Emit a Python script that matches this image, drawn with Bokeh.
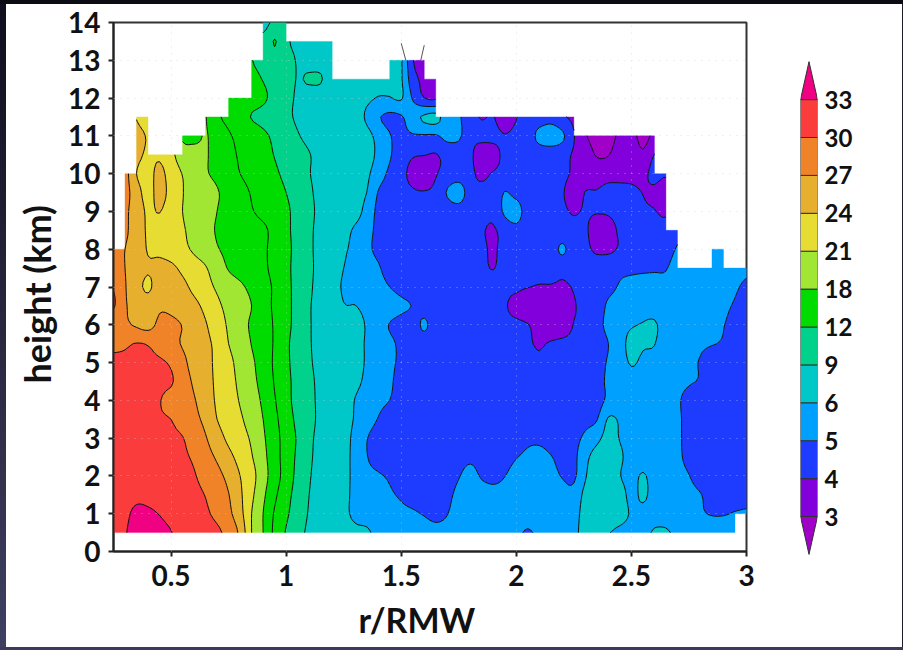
import numpy as np
from contourpy import contour_generator
from bokeh.embed import file_html
from bokeh.resources import INLINE
from bokeh.plotting import figure
from bokeh.layouts import row, column
from bokeh.models import Range1d, FixedTicker, Title, Div

X = float("nan")

r_nodes = [round(0.25 + 0.05 * i, 2) for i in range(56)]
z_nodes = [0.5 * j for j in range(1, 29)]

levels = [0, 3, 4, 5, 6, 9, 12, 15, 18, 21, 24, 27, 30, 33, 100]
fills = ["#A000C8", "#8200DC", "#1E3CFF", "#00A0FF", "#00C8C8", "#00D28C", "#00DC00", "#00DC00",
         "#A0E632", "#E6DC32", "#E6AF2D", "#F08228", "#FA3C3C", "#F00082"]

bar_levels = [3, 4, 5, 6, 9, 12, 18, 21, 24, 27, 30, 33]
bar_colors = ["#8200DC", "#1E3CFF", "#00A0FF", "#00C8C8", "#00D28C", "#00DC00",
              "#A0E632", "#E6DC32", "#E6AF2D", "#F08228", "#FA3C3C"]
bar_low = "#A000C8"
bar_high = "#F00082"

x_ticks = [0.5, 1, 1.5, 2, 2.5, 3]
x_tick_text = ["0.5", "1", "1.5", "2", "2.5", "3"]
y_ticks = list(range(0, 15))

stray_r_a = [1.50, 1.52]
stray_z_a = [13.45, 13.0]
stray_r_b = [1.60, 1.585]
stray_z_b = [13.4, 13.0]

z05 = [31,32.8,33.8,34.2,34,33.1,32,31.5,31,30.5, 29,26.3,21,18,14.3,11.8,9.8,8.6,7.9,7.2,
       6.5,6.2,6.1,5.8,5.6,5.5,5.4,5.3,5.2,5.2, 5.3,5.4,5.4,5.4,5.3,5.2,4.9,5.2,5.3,5.5,
       5.8,6.3,6.4,6.05,5.8,5.7,5.7,6.1,6.1,5.8, 5.6,5.5,5.4,5.4,5.3,X]
z10 = [31.5,32.4,33.6,33.4,32.9,32,31.5,31,30.4,29.3, 27.7,25,21,18,14.7,12.5,10.5,8.8,8,7.1,
       6.3,5.8,5.7,5.6,5.4,5.2,5.1,4.95,4.8,4.98, 5.3,5.4,5.35,5.3,5.3,5.4,5.5,5.5,5.5,5.4,
       5.6,6.4,6.6,6.7,6.4,5.9,5.7,5.6,5.6,5.5, 5.4,5.1,4.95,4.95,5.05,5.1]
z15 = [31.3,31.8,32.3,32.3,32,31.5,31,30.6,29.9,28.5, 27.1,24.5,21.6,18.6,15.6,13,10.9,9,8.1,7.2,
       6.3,5.8,5.5,5.3,5.1,4.9,4.7,4.6,4.5,4.8, 5.2,5.4,5.4,5.35,5.35,5.5,5.6,5.6,5.5,5.3,
       5.3,6.3,6.8,7,6.5,5.7,6.2,5.6,5.6,5.5, 5.3,5.05,4.6,4.6,4.6,4.6]
z20 = [31,31.3,31.6,31.6,31.4,31.2,30.8,30.2,29,27.8, 26.2,24,22,19.2,16.4,13.7,11.2,9.2,8.2,7.2,
       6.3,5.8,5.3,5.1,4.9,4.7,4.5,4.4,4.4,4.6, 4.95,5.3,4.9,4.7,4.98,5.4,5.6,5.6,5.3,4.95,
       4.85,5.9,6.9,7.2,6.05,5.7,6.1,5.6,5.5,5.3, 5.03,4.5,4.3,4.2,4.2,4.3]
z25 = [30.8,31,31.2,31,30.8,30.6,30.4,29.6,28.1,26.6, 24.8,23,21.2,18.8,16.3,13.6,11.5,9.4,8.3,7.3,
       6.4,5.7,5.05,4.6,4.5,4.4,4.3,4.2,4.2,4.4, 4.6,4.8,4.6,4.5,4.6,4.95,5.2,5.3,5.05,4.7,
       4.8,5.7,6.5,7,6.2,5.6,5.5,5.5,5.4,5.2, 4.7,4.3,4.15,4.1,4.1,4.15]
z30 = [30.6,30.7,30.8,30.7,30.6,30.4,30.1,28.6,27.2,25.2, 23.4,22.1,20.6,18.4,16.2,13.6,11.7,9.5,8.4,7.4,
       6.5,5.7,5.05,4.5,4.3,4.2,4.1,4.1,4.1,4.2, 4.3,4.3,4.3,4.2,4.3,4.5,4.8,4.8,4.6,4.4,
       4.7,5.2,5.7,6.4,5.95,5.6,5.5,5.4,5.4,5.2, 4.6,4.3,4.2,4.1,4.1,4.2]
z35 = [30.4,30.5,30.5,30.4,30.2,30,28.9,27.7,26.3,24, 22.7,21.4,19.8,18,15.7,13.4,11.3,9.7,8.5,7.5,
       6.6,5.9,5.5,4.95,4.4,4.2,4.1,4.1,4.1,4.1, 4.2,4.2,4.2,4.2,4.2,4.3,4.4,4.4,4.4,4.3,
       4.4,4.7,4.95,6.1,5.9,5.6,5.5,5.4,5.4,5.2, 4.6,4.3,4.2,4.1,4.1,4.2]
z40 = [30.3,30.3,30.3,30.2,30.1,29,28.2,27.2,25.5,23.6, 22.3,20.8,19.3,17.5,15.2,13,10.9,9.6,8.5,7.6,
       6.8,5.95,5.6,5.3,5,4.4,4.2,4.1,4.1,4.1, 4.1,4.1,4.1,4.1,4.1,4.2,4.2,4.2,4.2,4.2,
       4.2,4.3,4.6,5.2,5.5,5.5,5.5,5.5,5.4,5.15, 4.6,4.3,4.2,4.1,4.1,4.2]
z45 = [30.6,30.7,30.7,30.6,30.5,30.3,28.3,26.6,25,23.5, 22,20.4,18.8,17,14.8,12.8,11,9.5,8.5,7.7,
       7,6.3,5.8,5.5,5.2,4.5,4.3,4.2,4.1,4.1, 4.1,4.1,4.1,4.1,4.1,4.1,4.1,4.1,4.1,4.2,
       4.2,4.3,4.6,5.2,5.5,5.6,5.7,5.7,5.5,5.3, 5.1,4.9,4.4,4.2,4.1,4.2]
z50 = [30.6,30.5,30.6,30.6,30.4,29.6,27.7,26,24.8,23.4, 21.7,20.1,18.5,16.6,14.6,12.6,10.8,9.3,8.4,7.7,
       7.1,6.4,5.9,5.5,5.2,4.8,4.4,4.3,4.2,4.1, 4.1,4.1,4.1,4.1,4.1,4.1,4.1,4.05,4.1,4.2,
       4.2,4.3,4.6,5.1,5.5,6.1,5.8,5.7,5.5,5.3, 5.1,4.95,4.5,4.3,4.2,4.2]
z55 = [29.3,29.6,30.1,29.8,28.7,27.8,26.8,25.9,24.6,23.3, 21,19.8,17.9,16.5,14.7,12.5,10.9,9.2,8.4,7.8,
       7.2,6.4,5.9,5.5,5.2,4.8,4.5,4.4,4.3,4.2, 4.2,4.2,4.2,4.1,4.1,4.05,4.05,3.95,4.05,4.1,
       4.1,4.2,4.4,5,5.5,6.4,6.1,6.03,5.5,5.3, 5.2,5.1,5.05,4.9,4.6,4.3]
z60 = [28,27.5,26.6,26,27.6,27.5,26.9,25.5,24.2,22.5, 20.6,19.1,17.6,16.4,14.7,12.8,11,9.2,8.3,7.6,
       7,6.5,5.9,5.4,4.95,4.6,4.4,5.2,4.3,4.3, 4.3,4.3,4.2,4.2,4.1,4.1,4.03,3.7,3.6,3.7,
       4.02,4.1,4.6,5.3,5.6,5.9,6.05,6.1,5.6,5.4, 5.3,5.2,5.2,5.03,4.7,4.4]
z65 = [30.3,27.3,26.2,25.5,26.6,26.4,25.6,24.7,23.3,21.6, 20.2,19.2,18,16.3,14.5,12.9,10.9,9.2,8.2,7.2,
       6.1,6.02,5.7,5.3,5.5,5.25,4.95,4.4,4.3,4.3, 4.3,4.3,4.3,4.2,4.05,3.8,3.5,3.4,3.4,3.4,
       3.95,4.1,4.4,5.2,5.6,5.6,5.6,5.6,5.5,5.4, 5.4,5.4,5.4,5.2,4.9,4.6]
z70 = [29.8,27.2,25.1,23.5,25.6,25.4,24.7,23.3,22,20.6, 19.5,18.5,17.3,16,14.6,12.9,10.9,9.4,8.1,6.9,
       5.8,5.7,5.6,5.3,5,4.6,4.3,4.2,4.2,4.2, 4.2,4.2,4.2,4.2,4.1,4.1,4.02,3.95,3.95,3.9,
       4.05,4.3,4.6,4.7,5.1,5.3,5.35,5.3,5.25,5.4, 5.5,5.5,5.5,5.5,5.15,4.8]
z75 = [28.5,27,25.8,24.3,25,24.6,23.4,22.2,21.2,19.5, 17.8,16.9,16.2,15.5,14.2,12.8,10.8,9.5,8.2,7,
       6,5.7,5.4,5.1,4.6,4.3,4.2,4.1,4.1,4.1, 4.1,4.1,4.1,3.98,4.2,4.2,4.2,4.2,4.2,4.2,
       4.2,4.3,4.6,4.8,4.8,4.8,4.85,4.9,4.95,5.4, 5.5,5.5,5.5,5.5,5.5,5.2]
z80 = [27.6,27,25.5,23.8,23.3,22.6,21.7,20.6,19.6,18.2, 17.4,16.8,16.1,15.5,14,12.8,11,9.5,8.1,7,
       6.2,5.7,5.2,4.8,4.5,4.3,4.2,4.1,4.1,4.1, 4.1,4.1,4.1,3.93,4.2,4.3,4.3,4.3,4.4,5.2,
       4.3,4.2,3.8,3.75,4.1,4.2,4.3,4.4,4.6,5.1, X,X,5.5,5.5,X,X]
z85 = [X,27.5,25.3,23.7,23.1,22.3,21.3,20.1,18.9,17.8, 17.3,16.8,16.2,15.6,14,12.6,11,9.5,8.2,7.3,
       6.5,5.8,5.3,4.8,4.5,4.3,4.2,4.1,4.1,4.1, 4.1,4.1,4.05,3.92,4.3,4.6,4.3,4.3,4.3,4.2,
       4.15,4.1,3.6,3.6,4.15,4.3,4.3,4.4,4.5,4.7, X,X,X,X,X,X]
z90 = [X,27.5,25.5,23.6,24.1,22.5,21,20,19,18, 17,16.1,15.2,14.2,13.4,12.5,11,9.6,8.4,7.5,
       6.8,6.5,5.6,4.8,4.5,4.3,4.2,4.2,4.2,4.3, 4.3,4.2,4.2,4.2,5.2,5.6,4.3,4.3,4.2,4.1,
       3.95,4.05,4.05,4.1,4.3,4.2,4.1,4.05,3.8,X, X,X,X,X,X,X]
z95 = [X,28,25.2,23,25,23,21.1,20,19.2,18.2, 17.1,16,14.8,14,13,12,10.7,9.4,8.3,7.6,
       7,6.5,6,4.95,4.5,4.3,4.1,4.05,4.2,5.1, 5.8,4.2,4.1,4.2,5.05,4.6,4.2,4.2,4.1,4.05,
       3.7,4.02,4.03,4.15,4.2,4.15,3.98,3.8,3.5,X, X,X,X,X,X,X]
z100 = [X,28,24,23,24.8,22.6,20.9,19.8,18.3,17.4, 16.2,15,14.1,13.3,12.4,11.4,10.2,9.1,8.3,7.7,
        7.2,6.8,6.2,5.5,4.8,4.3,3.7,3.5,3.95,4.2, 4.2,4.1,3.9,4.05,4.2,4.3,4.3,4.2,4.2,4.15,
        3.9,3.7,3.7,3.75,3.8,3.8,3.75,4.3,4.1,X, X,X,X,X,X,X]
z105 = [X,X,25,23.5,23.6,21.8,19.5,19.4,18.3,17, 15.7,14.7,13.8,12.9,11.9,11,10,9.1,8.4,7.8,
        7.3,6.9,6.4,5.8,5.1,4.5,4.1,4.03,3.95,4.3, 4.3,4.15,3.5,3.7,4.2,4.3,4.3,4.3,4.4,4.3,
        3.9,3.6,2.9,2.95,3.6,3.7,3.15,4.03,X,X, X,X,X,X,X,X]
z110 = [X,X,25.5,23.7,X,X,17.5,17,18.2,16.5, 15.3,14.3,13.4,12.5,11.5,10.5,9.2,8.4,7.9,7.5,
        7,6.6,6.3,5.7,5.05,4.8,4.9,4.9,4.9,5.3, 5.2,4.2,4.25,4.2,4.05,4.2,4.3,5.4,5.6,5.2,
        4.05,3.1,2.6,2.6,3.2,3.3,2.7,3.3,X,X, X,X,X,X,X,X]
z115 = [X,X,23.8,22.5,X,X,X,X,18.1,15.5, 14.3,13,11.9,11.3,10.5,9.6,8.6,8,7.6,7.2,
        6.9,6.5,5.85,5.1,4.8,4.9,5.6,6.15,6.3,5.5, 5.15,4.3,3.95,4.05,3.5,3.98,4.2,4.3,4.6,4.1,
        3.8,X,X,X,X,X,X,X,X,X, X,X,X,X,X,X]
z120 = [X,X,X,X,X,X,X,X,X,X, 14,13.5,13,12.4,11.2,9.7,8.7,8,7.5,7.1,
        6.7,6.4,6.2,5.95,5.95,6.1,4.9,4.02,3.9,X, X,X,X,X,X,X,X,X,X,X,
        X,X,X,X,X,X,X,X,X,X, X,X,X,X,X,X]
z125 = [X,X,X,X,X,X,X,X,X,X, X,X,12.6,11.9,10.9,9.9,8.9,9.25,9.25,7.2,
        6.9,6.7,6.5,6.3,6.3,6.1,4.4,3.8,3.7,X, X,X,X,X,X,X,X,X,X,X,
        X,X,X,X,X,X,X,X,X,X, X,X,X,X,X,X]
z130 = [X,X,X,X,X,X,X,X,X,X, X,X,12.1,11.2,10.6,9.9,8.8,8.2,7.8,7.6,
        X,X,X,X,6.3,6.1,4.05,3.7,X,X, X,X,X,X,X,X,X,X,X,X,
        X,X,X,X,X,X,X,X,X,X, X,X,X,X,X,X]
z135 = [X,X,X,X,X,X,X,X,X,X, X,X,X,9.6,12.2,9.5,8.4,8,7.7,7.5,
        X,X,X,X,X,X,X,X,X,X, X,X,X,X,X,X,X,X,X,X,
        X,X,X,X,X,X,X,X,X,X, X,X,X,X,X,X]
z140 = [X,X,X,X,X,X,X,X,X,X, X,X,X,8.5,9.6,9.8,X,X,X,X,
        X,X,X,X,X,X,X,X,X,X, X,X,X,X,X,X,X,X,X,X,
        X,X,X,X,X,X,X,X,X,X, X,X,X,X,X,X]

rows = [z05, z10, z15, z20, z25, z30, z35, z40, z45, z50, z55, z60, z65, z70,
        z75, z80, z85, z90, z95, z100, z105, z110, z115, z120, z125, z130, z135, z140]
for rw in rows:
    assert len(rw) == 56, len(rw)

field = np.array(rows, dtype=float)


def smooth_axis(a, k, axis):
    # Catmull-Rom display smoothing between the read nodes, as the original plot was drawn smoothly
    a = np.moveaxis(a, axis, 0)
    n = a.shape[0]
    t = np.arange((n - 1) * k + 1) / k
    i = np.minimum(t.astype(int), n - 2)
    u = (t - i).reshape((-1,) + (1,) * (a.ndim - 1))
    p0, p1, p2, p3 = a[np.maximum(i - 1, 0)], a[i], a[i + 1], a[np.minimum(i + 2, n - 1)]
    out = 0.5 * (2 * p1 + (p2 - p0) * u + (2 * p0 - 5 * p1 + 4 * p2 - p3) * u ** 2
                 + (3 * p1 - p0 - 3 * p2 + p3) * u ** 3)
    return np.moveaxis(out, 0, axis)


K = 4
filled = field.copy()
for j in range(filled.shape[1]):
    col = filled[:, j]
    first = np.flatnonzero(~np.isnan(col))[0]
    col[:first] = col[first]
    for i in range(first + 1, len(col)):
        if np.isnan(col[i]):
            col[i] = col[i - 1]
fine = smooth_axis(smooth_axis(filled, K, 0), K, 1)
valid = ~np.isnan(field)
cells = valid[:-1, :-1] & valid[1:, :-1] & valid[:-1, 1:] & valid[1:, 1:]
fine_ok = np.zeros(fine.shape, dtype=bool)
for (a, b), good in np.ndenumerate(cells):
    if good:
        fine_ok[a * K:(a + 1) * K + 1, b * K:(b + 1) * K + 1] = True
fine_r = np.linspace(r_nodes[0], r_nodes[-1], fine.shape[1])
fine_z = np.linspace(z_nodes[0], z_nodes[-1], fine.shape[0])
gen = contour_generator(fine_r, fine_z, np.ma.array(fine, mask=~fine_ok), name="serial",
                        corner_mask=False, fill_type="OuterOffset", line_type="Separate")

TICK_FONT = "Lato"
STRIP_L, STRIP_T, STRIP_B, STRIP_R = 6, 4, 3, 1
LEFT, TOP, FRAME_W, FRAME_H = 113, 22, 633, 530
FIG_H = 650 - STRIP_T - STRIP_B

p = figure(width=766 - STRIP_L, height=FIG_H, output_backend="svg", toolbar_location=None,
           x_range=Range1d(0.25, 3.0), y_range=Range1d(0, 14),
           min_border_left=LEFT - STRIP_L, min_border_right=20, min_border_top=TOP - STRIP_T,
           min_border_bottom=FIG_H - (TOP - STRIP_T) - FRAME_H)

for lo, hi, colour in zip(levels[:-1], levels[1:], fills):
    pts, offs = gen.filled(lo, hi)
    if not pts:
        continue
    xs, ys = [], []
    for ring_pts, ring_off in zip(pts, offs):
        xs.append([[ring_pts[a:b, 0] for a, b in zip(ring_off[:-1], ring_off[1:])]])
        ys.append([[ring_pts[a:b, 1] for a, b in zip(ring_off[:-1], ring_off[1:])]])
    p.multi_polygons(xs, ys, fill_color=colour, line_color=colour, line_width=0.4)

for lev in levels:
    segs = gen.lines(lev)
    if segs:
        p.multi_line([s[:, 0] for s in segs], [s[:, 1] for s in segs], line_color="#111111", line_width=1)

p.line(stray_r_a, stray_z_a, line_color="#555555", line_width=1)
p.line(stray_r_b, stray_z_b, line_color="#555555", line_width=1)

p.xaxis.ticker = FixedTicker(ticks=x_ticks)
p.xaxis.major_label_overrides = {t: s for t, s in zip(x_ticks, x_tick_text)}
p.yaxis.ticker = FixedTicker(ticks=y_ticks)
for ax in (p.xaxis[0], p.yaxis[0]):
    ax.major_label_text_font = TICK_FONT
    ax.major_label_text_font_style = "bold"
    ax.major_label_text_font_size = "28px"
    ax.major_label_text_color = "#111111"
    ax.axis_line_width = 2
    ax.axis_line_color = "#222222"
    ax.major_tick_line_width = 2
    ax.major_tick_line_color = "#222222"
    ax.major_tick_in = 0
    ax.major_tick_out = 5
    ax.minor_tick_line_color = None
    ax.major_label_standoff = 8

p.outline_line_color = "#333333"
p.outline_line_width = 2
for g in (p.xgrid[0], p.ygrid[0]):
    g.grid_line_color = "#cfcfcf"
    g.grid_line_dash = "1 6"
    g.grid_line_alpha = 0.6
    g.level = "overlay"

p.add_layout(Title(text="r/RMW", align="left", offset=245, standoff=16, text_font=TICK_FONT,
                   text_font_style="bold", text_font_size="34px", text_color="#111111"), "below")
p.add_layout(Title(text="height (km)", align="left", offset=168, standoff=13, text_font=TICK_FONT,
                   text_font_style="bold", text_font_size="36px", text_color="#111111"), "left")

idx = list(range(len(bar_levels)))
cb = figure(width=136, height=FIG_H, output_backend="svg", toolbar_location=None,
            x_range=Range1d(0, 1), y_range=Range1d(-44 / 37.9, 466 / 37.9),
            y_axis_location="right", x_axis_location=None,
            min_border_left=34, min_border_right=85, min_border_top=50 - STRIP_T,
            min_border_bottom=FIG_H - (50 - STRIP_T) - 510)
cb.quad(left=0, right=1, bottom=idx[:-1], top=idx[1:], fill_color=bar_colors,
        line_color="#333333", line_width=1)
cb.patch([0, 1, 0.5], [idx[0], idx[0], idx[0] - 1], fill_color=bar_low, line_color="#333333", line_width=1)
cb.patch([0, 1, 0.5], [idx[-1], idx[-1], idx[-1] + 1], fill_color=bar_high, line_color="#333333", line_width=1)
cb.outline_line_color = None
cb.grid.visible = False
cb.yaxis.ticker = FixedTicker(ticks=idx)
cb.yaxis.major_label_overrides = {i: str(v) for i, v in zip(idx, bar_levels)}
cb.yaxis.axis_line_color = None
cb.yaxis.major_tick_line_color = None
cb.yaxis.minor_tick_line_color = None
cb.yaxis.major_tick_out = 0
cb.yaxis.major_label_standoff = 7
cb.yaxis.major_label_text_font = TICK_FONT
cb.yaxis.major_label_text_font_style = "bold"
cb.yaxis.major_label_text_font_size = "24px"
cb.yaxis.major_label_text_color = "#111111"

strip_top = Div(width=903, height=STRIP_T, margin=0, styles={"background-color": "#0b0b14"})
strip_left = Div(width=STRIP_L, height=FIG_H, margin=0,
                 styles={"background": "linear-gradient(#0e0e1e,#3f3f60)"})
strip_right = Div(width=STRIP_R, height=FIG_H, margin=0, styles={"background-color": "#1c1c2c"})
strip_bottom = Div(width=903, height=STRIP_B, margin=0, styles={"background-color": "#3c3c5a"})

page = column(strip_top, row(strip_left, p, column(cb), strip_right, spacing=0), strip_bottom, spacing=0)
open("out.html", "w").write(file_html(page, INLINE))
